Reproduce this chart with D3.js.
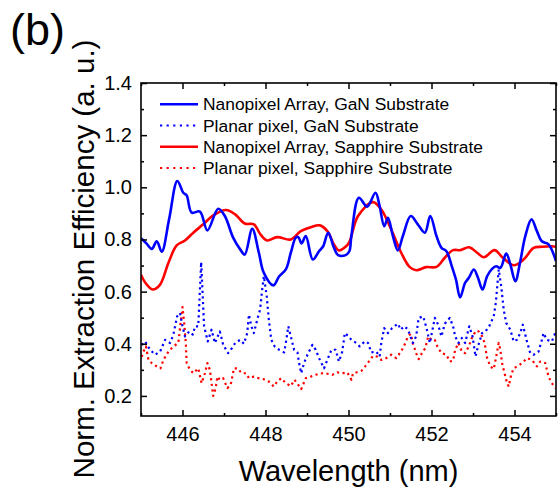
<!DOCTYPE html>
<html>
<head>
<meta charset="utf-8">
<script src="https://cdn.jsdelivr.net/npm/d3@7"></script>
<style>
  html, body { margin: 0; padding: 0; background: #fff; }
  svg { display: block; }
  text { font-family: "Liberation Sans", Arial, sans-serif; fill: #000; }
</style>
</head>
<body>
<svg id="chart" width="558" height="492"></svg>
<script>
// Wavelength (nm) / normalized extraction efficiency pairs for each structure
const nanoGaN = [
  [445.00,0.805],[445.13,0.785],[445.26,0.764],[445.38,0.793],[445.50,0.753],[445.68,0.880],
  [445.875,1.024],[446.02,0.979],[446.10,0.969],[446.22,0.903],[446.42,0.907],[446.60,0.835],
  [446.86,0.918],[447.02,0.890],[447.22,0.807],[447.39,0.762],[447.50,0.742],[447.68,0.841],
  [447.84,0.749],[447.96,0.672],[448.19,0.624],[448.33,0.659],[448.49,0.685],[448.61,0.749],
  [448.73,0.807],[448.79,0.809],[448.87,0.785],[448.97,0.813],[449.14,0.723],[449.29,0.755],
  [449.39,0.774],[449.51,0.826],[449.65,0.768],[449.75,0.740],[449.93,0.740],[450.02,0.755],
  [450.07,0.813],[450.25,0.960],[450.45,0.926],[450.65,0.979],[450.75,0.928],[450.86,0.851],
  [450.95,0.883],[451.07,0.813],[451.19,0.758],[451.31,0.813],[451.50,0.890],[451.67,0.858],
  [451.84,0.826],[451.97,0.890],[452.12,0.813],[452.24,0.768],[452.36,0.755],[452.49,0.697],
  [452.59,0.646],[452.69,0.578],[452.81,0.634],[452.90,0.653],[453.02,0.685],[453.12,0.653],
  [453.23,0.608],[453.34,0.659],[453.46,0.687],[453.56,0.697],[453.66,0.691],[453.80,0.746],
  [453.90,0.704],[454.02,0.640],[454.14,0.717],[454.26,0.813],[454.41,0.877],[454.54,0.832],
  [454.66,0.793],[454.82,0.781],[455.00,0.717]
];

const planarGaN = [
  [445.02,0.395],[445.06,0.403],[445.10,0.409],[445.16,0.392],[445.22,0.377],[445.34,0.358],
  [445.46,0.370],[445.58,0.415],[445.70,0.403],[445.78,0.435],[445.87,0.505],[445.94,0.518],
  [446.00,0.467],[446.06,0.428],[446.16,0.447],[446.25,0.435],[446.30,0.467],[446.38,0.467],
  [446.45,0.713],[446.52,0.467],[446.61,0.409],[446.70,0.454],[446.78,0.403],[446.90,0.447],
  [446.98,0.396],[447.10,0.364],[447.19,0.383],[447.27,0.403],[447.39,0.415],[447.48,0.400],
  [447.56,0.441],[447.60,0.512],[447.66,0.467],[447.72,0.441],[447.80,0.492],[447.87,0.531],
  [447.92,0.608],[447.96,0.659],[448.03,0.582],[448.08,0.492],[448.14,0.415],[448.22,0.390],
  [448.33,0.377],[448.45,0.367],[448.49,0.403],[448.55,0.467],[448.61,0.428],[448.69,0.377],
  [448.77,0.367],[448.81,0.326],[448.86,0.287],[448.93,0.326],[449.01,0.358],[449.13,0.396],
  [449.21,0.377],[449.29,0.345],[449.41,0.306],[449.49,0.338],[449.59,0.377],[449.69,0.377],
  [449.77,0.332],[449.85,0.370],[449.91,0.441],[449.99,0.430],[450.07,0.415],[450.19,0.403],
  [450.27,0.390],[450.39,0.409],[450.47,0.403],[450.55,0.367],[450.67,0.370],[450.75,0.351],
  [450.79,0.403],[450.86,0.460],[450.95,0.441],[451.05,0.460],[451.19,0.477],[451.26,0.454],
  [451.34,0.467],[451.43,0.456],[451.55,0.403],[451.63,0.428],[451.69,0.499],[451.80,0.505],
  [451.88,0.460],[451.96,0.403],[452.04,0.467],[452.08,0.499],[452.16,0.473],[452.24,0.428],
  [452.32,0.477],[452.44,0.499],[452.52,0.467],[452.57,0.428],[452.65,0.403],[452.73,0.422],
  [452.81,0.403],[452.91,0.467],[452.99,0.428],[453.06,0.351],[453.12,0.390],[453.22,0.441],
  [453.30,0.447],[453.39,0.467],[453.50,0.505],[453.55,0.557],[453.62,0.685],[453.68,0.620],
  [453.74,0.531],[453.80,0.480],[453.90,0.454],[453.98,0.409],[454.06,0.415],[454.14,0.441],
  [454.20,0.473],[454.30,0.409],[454.38,0.364],[454.46,0.358],[454.58,0.370],[454.66,0.415],
  [454.70,0.441],[454.78,0.415],[454.90,0.409],[454.98,0.441]
];

const nanoSapphire = [
  [445.00,0.665],[445.10,0.635],[445.28,0.608],[445.46,0.627],[445.66,0.710],[445.86,0.777],
  [446.06,0.796],[446.26,0.826],[446.50,0.858],[446.74,0.892],[447.05,0.913],[447.27,0.896],
  [447.50,0.861],[447.72,0.858],[447.88,0.819],[448.04,0.796],[448.28,0.809],[448.61,0.800],
  [448.85,0.832],[449.09,0.847],[449.31,0.854],[449.49,0.832],[449.65,0.781],[449.77,0.758],
  [449.93,0.772],[450.02,0.790],[450.23,0.890],[450.59,0.943],[450.79,0.915],[451.03,0.838],
  [451.27,0.749],[451.47,0.695],[451.63,0.682],[451.87,0.694],[452.12,0.695],[452.32,0.730],
  [452.52,0.759],[452.69,0.759],[452.91,0.770],[453.10,0.749],[453.26,0.732],[453.52,0.759],
  [453.70,0.733],[453.98,0.701],[454.22,0.723],[454.46,0.768],[454.66,0.772],[454.90,0.774],
  [455.00,0.772]
];

const planarSapphire = [
  [445.02,0.350],[445.04,0.364],[445.12,0.390],[445.18,0.338],[445.26,0.326],[445.38,0.313],
  [445.47,0.306],[445.54,0.338],[445.66,0.370],[445.78,0.390],[445.90,0.403],[445.94,0.460],
  [446.00,0.541],[446.04,0.480],[446.08,0.403],[446.10,0.326],[446.18,0.300],[446.26,0.287],
  [446.38,0.306],[446.46,0.249],[446.54,0.287],[446.60,0.326],[446.66,0.300],[446.74,0.200],
  [446.80,0.230],[446.84,0.274],[446.90,0.262],[446.98,0.268],[447.08,0.230],[447.16,0.242],
  [447.24,0.306],[447.32,0.306],[447.43,0.287],[447.53,0.287],[447.60,0.268],[447.72,0.274],
  [447.84,0.268],[447.96,0.264],[448.08,0.255],[448.20,0.236],[448.28,0.255],[448.38,0.268],
  [448.49,0.249],[448.61,0.238],[448.70,0.262],[448.79,0.242],[448.86,0.226],[448.97,0.268],
  [449.09,0.274],[449.21,0.281],[449.33,0.287],[449.49,0.285],[449.61,0.281],[449.73,0.290],
  [449.85,0.287],[449.97,0.290],[450.07,0.262],[450.11,0.287],[450.19,0.290],[450.31,0.296],
  [450.40,0.313],[450.51,0.336],[450.59,0.354],[450.69,0.351],[450.79,0.338],[450.91,0.345],
  [451.03,0.358],[451.15,0.345],[451.21,0.358],[451.29,0.377],[451.37,0.403],[451.43,0.428],
  [451.50,0.438],[451.55,0.403],[451.63,0.364],[451.69,0.341],[451.77,0.364],[451.85,0.383],
  [451.92,0.428],[452.00,0.415],[452.08,0.415],[452.14,0.390],[452.24,0.364],[452.36,0.358],
  [452.44,0.332],[452.52,0.335],[452.57,0.377],[452.65,0.403],[452.73,0.370],[452.81,0.364],
  [452.90,0.390],[452.97,0.422],[453.07,0.450],[453.14,0.447],[453.22,0.428],[453.28,0.403],
  [453.34,0.345],[453.42,0.313],[453.50,0.303],[453.56,0.351],[453.62,0.403],[453.66,0.377],
  [453.70,0.326],[453.74,0.300],[453.80,0.262],[453.86,0.236],[453.92,0.281],[453.98,0.306],
  [454.08,0.315],[454.20,0.328],[454.30,0.345],[454.42,0.338],[454.54,0.313],[454.62,0.332],
  [454.74,0.326],[454.82,0.274],[454.90,0.249],[454.98,0.230]
];

const seriesNames = [
  "Nanopixel Array, GaN Substrate",
  "Planar pixel, GaN Substrate",
  "Nanopixel Array, Sapphire Substrate",
  "Planar pixel, Sapphire Substrate"
];

const xMajorTicks = [446, 448, 450, 452, 454];
const xMinorTicks = [445, 447, 449, 451, 453, 455];
const yMajorTicks = [0.2, 0.4, 0.6, 0.8, 1.0, 1.2, 1.4];
const yMinorTicks = [0.3, 0.5, 0.7, 0.9, 1.1, 1.3];

const svg = d3.select("#chart");
const plotLeft = 141, plotRight = 556, plotTop = 83, plotBottom = 416;

const x = d3.scaleLinear().domain([445, 455]).range([plotLeft, plotRight]);
const y = d3.scaleLinear().domain([0.123, 1.4]).range([plotBottom, plotTop]);

// clip the curves to the frame
svg.append("defs").append("clipPath").attr("id", "plotClip")
  .append("rect").attr("x", plotLeft).attr("y", plotTop)
  .attr("width", plotRight - plotLeft).attr("height", plotBottom - plotTop);

const series = [
  { name: seriesNames[0], data: nanoGaN, color: "#0000ff", dotted: false },
  { name: seriesNames[1], data: planarGaN, color: "#0000ff", dotted: true },
  { name: seriesNames[2], data: nanoSapphire, color: "#ff0000", dotted: false },
  { name: seriesNames[3], data: planarSapphire, color: "#ff0000", dotted: true }
];

const smoothLine = d3.line().x(d => x(d[0])).y(d => y(d[1])).curve(d3.curveCatmullRom.alpha(0.5));
const rawLine = d3.line().x(d => x(d[0])).y(d => y(d[1])).curve(d3.curveLinear);

const plot = svg.append("g").attr("clip-path", "url(#plotClip)");
// dotted spectra first, solid curves on top
[series[3], series[1], series[2], series[0]].forEach(s => {
  plot.append("path")
    .datum(s.data)
    .attr("fill", "none")
    .attr("stroke", s.color)
    .attr("stroke-width", s.dotted ? 2.2 : 2.6)
    .attr("stroke-dasharray", s.dotted ? "2.2,3.4" : null)
    .attr("stroke-linejoin", "round")
    .attr("d", s.dotted ? rawLine : smoothLine);
});

// axes with inward ticks on all four sides
function styleAxis(g) {
  g.select(".domain").remove();
  g.selectAll(".tick line").attr("stroke", "#000").attr("stroke-width", 1.5);
  g.selectAll(".tick text").style("font-size", "20px")
    .style("font-family", '"Liberation Sans", Arial, sans-serif');
}

svg.append("g").attr("transform", `translate(0,${plotBottom})`)
  .call(d3.axisBottom(x).tickValues(xMajorTicks).tickSize(-6).tickPadding(11).tickFormat(d3.format("d")))
  .call(styleAxis);
svg.append("g").attr("transform", `translate(0,${plotBottom})`)
  .call(d3.axisBottom(x).tickValues(xMinorTicks).tickSize(-3).tickFormat(""))
  .call(styleAxis);
svg.append("g").attr("transform", `translate(0,${plotTop})`)
  .call(d3.axisTop(x).tickValues(xMajorTicks).tickSize(-6).tickFormat(""))
  .call(styleAxis);
svg.append("g").attr("transform", `translate(0,${plotTop})`)
  .call(d3.axisTop(x).tickValues(xMinorTicks).tickSize(-3).tickFormat(""))
  .call(styleAxis);

svg.append("g").attr("transform", `translate(${plotLeft},0)`)
  .call(d3.axisLeft(y).tickValues(yMajorTicks).tickSize(-6).tickPadding(9).tickFormat(d3.format(".1f")))
  .call(styleAxis);
svg.append("g").attr("transform", `translate(${plotLeft},0)`)
  .call(d3.axisLeft(y).tickValues(yMinorTicks).tickSize(-3).tickFormat(""))
  .call(styleAxis);
svg.append("g").attr("transform", `translate(${plotRight},0)`)
  .call(d3.axisRight(y).tickValues(yMajorTicks).tickSize(-6).tickFormat(""))
  .call(styleAxis);
svg.append("g").attr("transform", `translate(${plotRight},0)`)
  .call(d3.axisRight(y).tickValues(yMinorTicks).tickSize(-3).tickFormat(""))
  .call(styleAxis);

// frame
svg.append("rect")
  .attr("x", plotLeft).attr("y", plotTop)
  .attr("width", plotRight - plotLeft).attr("height", plotBottom - plotTop)
  .attr("fill", "none").attr("stroke", "#000").attr("stroke-width", 1.6);

// axis titles
svg.append("text")
  .attr("x", (plotLeft + plotRight) / 2).attr("y", 481)
  .attr("text-anchor", "middle")
  .style("font-size", "29px")
  .text("Wavelength (nm)");

svg.append("text")
  .attr("transform", "translate(94,259) rotate(-90)")
  .attr("text-anchor", "middle")
  .style("font-size", "29.5px")
  .text("Norm. Extraction Efficiency (a. u.)");

// panel label
svg.append("text")
  .attr("x", 10).attr("y", 45)
  .style("font-size", "45px")
  .text("(b)");

// legend
const legendRows = [104.3, 125.5, 146.8, 168];
const legend = svg.append("g");
series.forEach((s, i) => {
  const cy = legendRows[i];
  legend.append("line")
    .attr("x1", 160).attr("x2", 198).attr("y1", cy).attr("y2", cy)
    .attr("stroke", s.color)
    .attr("stroke-width", s.dotted ? 2.2 : 2.6)
    .attr("stroke-dasharray", s.dotted ? "2.2,4.4" : null);
  legend.append("text")
    .attr("x", 203).attr("y", cy).attr("dy", "0.35em")
    .style("font-size", "17.4px")
    .text(s.name);
});
</script>
</body>
</html>
